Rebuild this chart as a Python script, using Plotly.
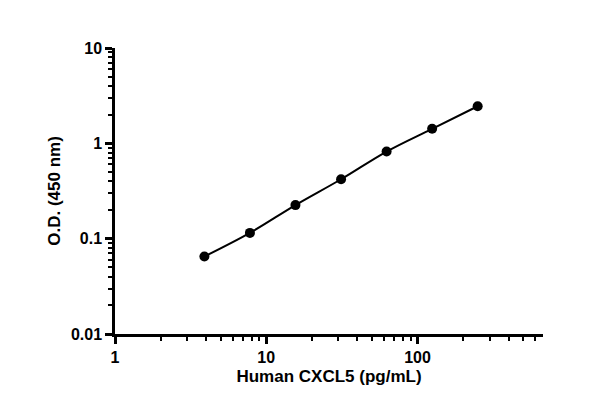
import plotly.graph_objects as go

conc = [3.9, 7.8, 15.6, 31.25, 62.5, 125, 250]
od = [0.065, 0.115, 0.225, 0.42, 0.82, 1.42, 2.45]

xminor = [m * 10**e for e in range(0, 3) for m in range(2, 10)]
yminor = [m * 10.0**e for e in range(-2, 1) for m in range(2, 10)]

fig = go.Figure(go.Scatter(x=conc, y=od, mode="lines+markers",
    line=dict(color="black", width=2, shape="spline"),
    marker=dict(color="black", size=10)))

def ax(minor_vals):
    return dict(type="log", showline=True, linecolor="black", linewidth=2.5, showgrid=False,
          zeroline=False, ticks="outside", ticklen=7, tickwidth=2.5, tickcolor="black",
          minor=dict(tickvals=minor_vals, ticks="outside", ticklen=4, tickwidth=2, tickcolor="black", showgrid=False),
          tickfont=dict(family="Arial, Liberation Sans", size=16, color="black", weight="bold"),
          title_font=dict(family="Arial, Liberation Sans", size=17, color="black"))

fig.update_layout(width=600, height=415, plot_bgcolor="white", paper_bgcolor="white",
    margin=dict(l=107, r=65, t=40, b=89), showlegend=False)
fig.update_xaxes(**ax(xminor), range=[0, 2.83], tickvals=[1, 10, 100], ticktext=["1", "10", "100"],
    title_text="<b>Human CXCL5 (pg/mL)</b>", title_standoff=6)
fig.update_yaxes(**ax(yminor), range=[-2, 1], tickvals=[0.01, 0.1, 1, 10], ticktext=["0.01", "0.1", "1", "10"],
    title_text="<b>O.D. (450 nm)</b>", title_standoff=6)
fig.write_html("out.html")
